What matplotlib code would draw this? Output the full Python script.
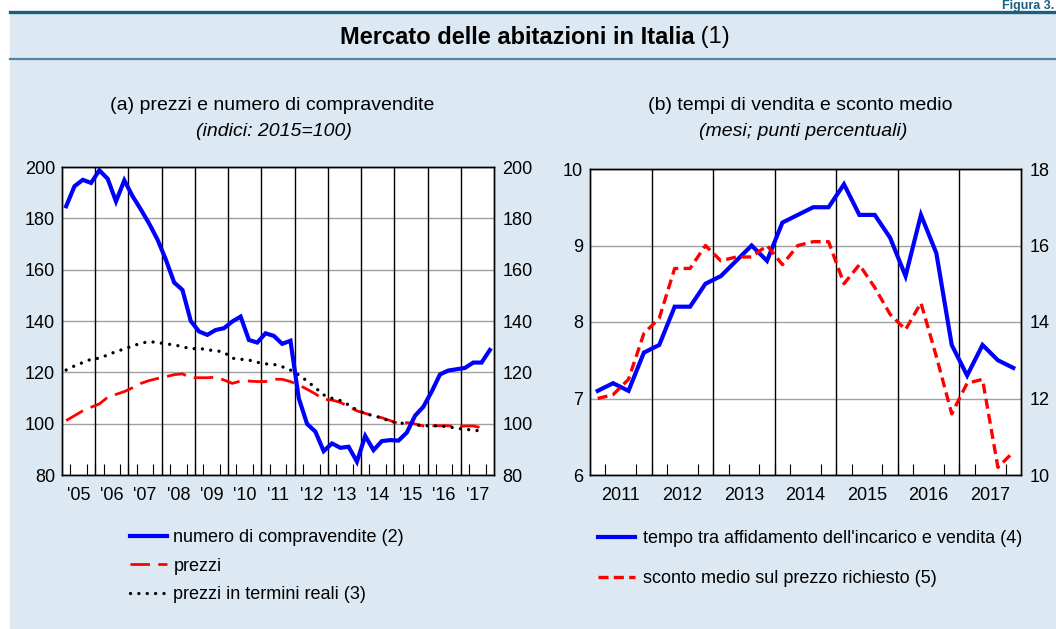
import numpy as np
import matplotlib.pyplot as plt
from matplotlib.lines import Line2D

plt.rcParams['font.family'] = ['Liberation Sans', 'DejaVu Sans']

BG = '#dde9f2'

# (a) quarterly indices, 2015=100, from 2005 Q1
compravendite = [184.7, 192.5, 195.0, 193.8, 198.7, 195.4, 186.6, 194.8,
                 188.6, 183.4, 177.9, 171.7, 163.9, 155.0, 152.1, 140.0,
                 135.9, 134.6, 136.5, 137.2, 139.8, 141.7, 132.6, 131.6,
                 135.2, 134.2, 131.1, 132.3, 109.9, 99.9, 96.9, 89.3,
                 92.3, 90.6, 91.0, 85.2, 95.2, 89.7, 93.2, 93.6,
                 93.4, 96.5, 103.1, 106.6, 112.5, 119.2, 120.7, 121.2,
                 121.7, 123.8, 123.8, 128.7]
prezzi = [101.2, 103.1, 105.0, 106.4, 107.7, 110.3, 111.4, 112.5,
          114.0, 115.7, 116.8, 117.6, 118.3, 119.1, 119.4, 117.9,
          117.9, 117.9, 118.1, 117.0, 115.7, 116.6, 116.6, 116.4,
          116.4, 117.3, 117.3, 116.4, 115.1, 113.4, 111.6, 109.5,
          109.2, 108.3, 106.6, 105.0, 104.0, 103.1, 102.3, 101.2,
          100.1, 100.4, 99.9, 99.1, 99.2, 99.2, 99.2, 98.8,
          99.1, 99.1, 98.4]
prezzi_reali = [120.9, 122.5, 123.8, 125.1, 125.5, 126.8, 128.1, 129.1,
                130.3, 131.3, 132.0, 131.6, 131.1, 130.7, 130.0, 129.1,
                129.4, 128.7, 128.5, 127.8, 125.5, 125.1, 124.8, 123.9,
                123.3, 123.1, 122.2, 120.9, 119.0, 116.6, 114.0, 111.2,
                109.9, 109.0, 107.3, 105.3, 104.0, 103.0, 102.3, 100.8,
                100.4, 99.9, 99.5, 99.2, 99.2, 99.1, 98.8, 98.2,
                97.8, 97.5, 97.1]
years_a = ["'05", "'06", "'07", "'08", "'09", "'10", "'11", "'12", "'13",
           "'14", "'15", "'16", "'17"]

# (b) quarterly, from 2011 Q1
tempo_vendita = [7.1, 7.2, 7.1, 7.6, 7.7, 8.2, 8.2, 8.5,
                 8.6, 8.8, 9.0, 8.8, 9.3, 9.4, 9.5, 9.5,
                 9.8, 9.4, 9.4, 9.1, 8.6, 9.4, 8.9, 7.7,
                 7.3, 7.7, 7.5, 7.4]
sconto_medio = [12.0, 12.1, 12.5, 13.7, 14.1, 15.4, 15.4, 16.0,
                15.6, 15.7, 15.7, 16.0, 15.5, 16.0, 16.1, 16.1,
                15.0, 15.5, 14.9, 14.2, 13.8, 14.5, 13.1, 11.6,
                12.4, 12.5, 10.2, 10.6]
years_b = ['2011', '2012', '2013', '2014', '2015', '2016', '2017']

TICK_FS = 13
SUB_FS = 14
LEG_FS = 13


def quarters(start_year, n):
    return start_year + 0.125 + 0.25 * np.arange(n)


def style_time_axis(ax, first_year, labels):
    n_years = len(labels)
    ax.set_xlim(first_year, first_year + n_years)
    ax.set_xticks(first_year + 0.5 + np.arange(n_years))
    ax.set_xticklabels(labels)
    ax.set_xticks(first_year + 0.25 * np.arange(1, 4 * n_years), minor=True)
    ax.tick_params(axis='x', which='major', length=0, pad=9, labelsize=TICK_FS)
    ax.tick_params(axis='x', which='minor', length=8, direction='in', width=0.8)
    for yr in range(first_year + 1, first_year + n_years):
        ax.axvline(yr, color='black', lw=1.0, zorder=1)


fig = plt.figure(figsize=(10.56, 6.29), dpi=100)
fig.patch.set_facecolor('white')

# background panel and header rules
fig.add_artist(plt.Rectangle((10 / 1056, 0), 1, 1 - 11 / 629, transform=fig.transFigure,
                             facecolor=BG, edgecolor='none', zorder=-10))
fig.add_artist(Line2D([10 / 1056, 1], [1 - 11.5 / 629] * 2, color='#1a5f80', lw=2.4))
fig.add_artist(Line2D([10 / 1056, 1], [1 - 59 / 629] * 2, color='#4f87a3', lw=1.6))
fig.text(1054 / 1056, 1 - 9.5 / 629, 'Figura 3.', ha='right', va='baseline', fontsize=9,
         fontweight='bold', color='#1a5f80')
title = fig.text(0.5 - 11 / 1056, 1 - 37 / 629, 'Mercato delle abitazioni in Italia',
                 ha='center', va='center', fontsize=17, fontweight='bold')
fig.add_artist(plt.Annotation(' (1)', xy=(1, 0.5), xycoords=title, va='center', ha='left',
                              fontsize=17))

# ---- panel (a)
ax1 = fig.add_axes([62 / 1056, 1 - 475 / 629, 432 / 1056, 308 / 629])
ax1.set_facecolor('white')
xa = quarters(2005, len(compravendite))
ax1.plot(xa, compravendite, color='#0000ff', lw=3.0, solid_joinstyle='miter', zorder=5,
         label='numero di compravendite (2)')
ax1.plot(xa[:len(prezzi)], prezzi, color='#ff0000', lw=2.0, dashes=(7, 3), zorder=4,
         label='prezzi')
ax1.plot(xa[:len(prezzi_reali)], prezzi_reali, color='black', lw=2.4,
         linestyle=(0, (0.01, 2.5)), dash_capstyle='round', zorder=4,
         label='prezzi in termini reali (3)')
ax1.set_ylim(80, 200)
ax1.set_yticks(np.arange(80, 201, 20))
ax1.yaxis.grid(True, color='#a0a0a0', lw=1.0)
ax1.set_axisbelow(True)
ax1.tick_params(axis='y', length=0, labelsize=TICK_FS, pad=5)
style_time_axis(ax1, 2005, years_a)
ax1r = ax1.twinx()
ax1r.set_ylim(80, 200)
ax1r.set_yticks(np.arange(80, 201, 20))
ax1r.tick_params(axis='y', length=0, labelsize=TICK_FS, pad=6)
for a in (ax1, ax1r):
    for s in a.spines.values():
        s.set_linewidth(1.0)

fig.text(272 / 1056, 1 - 105 / 629, '(a) prezzi e numero di compravendite', ha='center',
         va='center', fontsize=SUB_FS)
fig.text(274 / 1056, 1 - 131.5 / 629, '(indici: 2015=100)', ha='center', va='center',
         fontsize=SUB_FS, style='italic')

# ---- panel (b)
ax2 = fig.add_axes([590 / 1056, 1 - 475 / 629, 431 / 1056, 306 / 629])
ax2.set_facecolor('white')
xb = quarters(2011, len(tempo_vendita))
ax2.plot(xb, tempo_vendita, color='#0000ff', lw=3.0, solid_joinstyle='miter', zorder=5,
         label="tempo tra affidamento dell'incarico e vendita (4)")
ax2.set_ylim(6, 10)
ax2.set_yticks(np.arange(6, 11, 1))
ax2.yaxis.grid(True, color='#a0a0a0', lw=1.0)
ax2.set_axisbelow(True)
ax2.tick_params(axis='y', length=0, labelsize=TICK_FS, pad=5)
style_time_axis(ax2, 2011, years_b)
ax2r = ax2.twinx()
ax2r.plot(xb[:len(sconto_medio)], sconto_medio, color='#ff0000', lw=2.4,
          dashes=(3.0, 1.6), zorder=4, label='sconto medio sul prezzo richiesto (5)')
ax2r.set_ylim(10, 18)
ax2r.set_yticks(np.arange(10, 19, 2))
ax2r.tick_params(axis='y', length=0, labelsize=TICK_FS, pad=6)
for a in (ax2, ax2r):
    for s in a.spines.values():
        s.set_linewidth(1.0)

fig.text(800 / 1056, 1 - 105 / 629, '(b) tempi di vendita e sconto medio', ha='center',
         va='center', fontsize=SUB_FS)
fig.text(803 / 1056, 1 - 131.5 / 629, '(mesi; punti percentuali)', ha='center', va='center',
         fontsize=SUB_FS, style='italic')

# ---- legends
h1, l1 = ax1.get_legend_handles_labels()
fig.legend(h1, l1, loc='upper left', bbox_to_anchor=(130 / 1056, 1 - 529 / 629),
           frameon=False, fontsize=LEG_FS, handlelength=2.05, handletextpad=0.35,
           labelspacing=0.65, borderaxespad=0, borderpad=0)
h2, l2 = ax2.get_legend_handles_labels()
h3, l3 = ax2r.get_legend_handles_labels()
fig.legend(h2 + h3, l2 + l3, loc='upper left', bbox_to_anchor=(598 / 1056, 1 - 530 / 629),
           frameon=False, fontsize=LEG_FS, handlelength=2.05, handletextpad=0.45,
           labelspacing=1.28, borderaxespad=0, borderpad=0)

fig.savefig('out.png', dpi=100, facecolor=fig.get_facecolor())
